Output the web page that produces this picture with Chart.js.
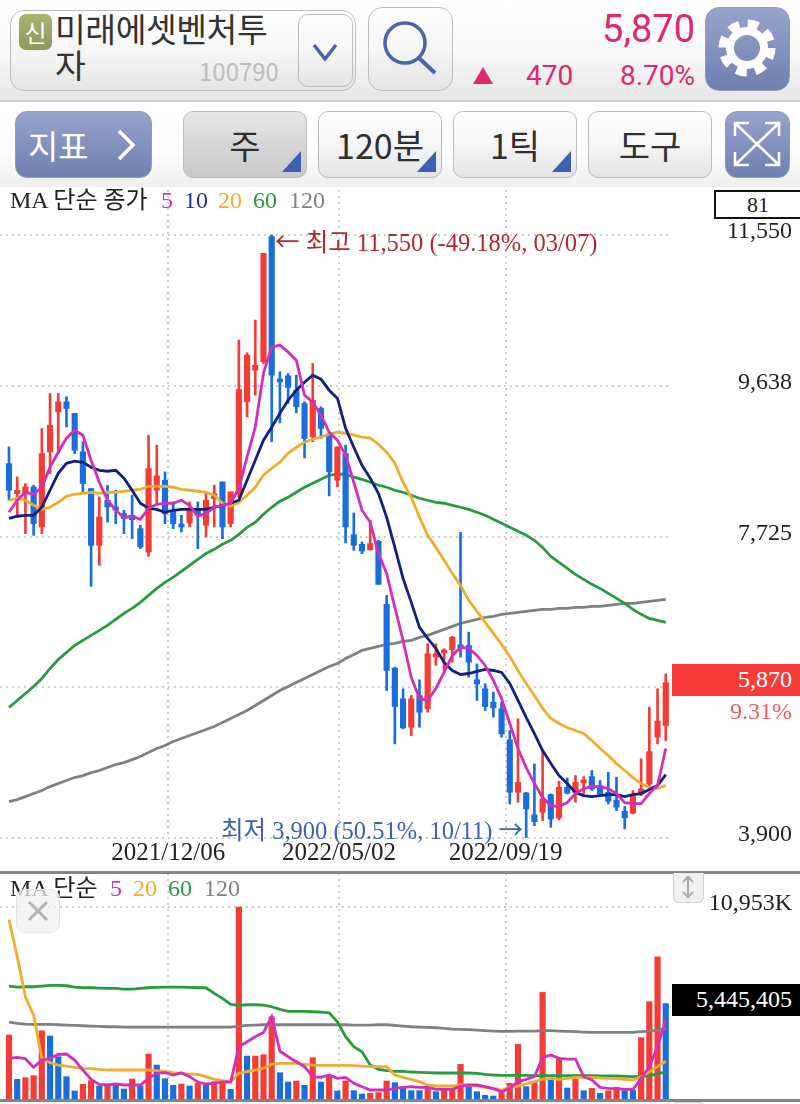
<!DOCTYPE html>
<html lang="ko">
<head>
<meta charset="utf-8">
<title>미래에셋벤처투자 100790</title>
<script src="https://cdn.jsdelivr.net/npm/chart.js@4/dist/chart.umd.min.js"></script>
<style>
    html, body { margin: 0; padding: 0; background: #fff; }
    body { width: 800px; height: 1104px; position: relative; overflow: hidden; font-family: 'Noto Sans CJK KR', 'Noto Sans', sans-serif; filter: blur(0.4px); }
    .abs { position: absolute; white-space: nowrap; line-height: 1; }
    .serif { font-family: 'Liberation Serif', 'Noto Sans CJK KR', serif; }
    .arrow { font-family: 'Noto Sans CJK KR', sans-serif; }
    #topbar { position: absolute; left: 0; top: 0; width: 800px; height: 100px; background: linear-gradient(#ffffff, #fafafa 50%, #e6e6e6); border-bottom: 2px solid #d0d0d0; }
    #toolbar { position: absolute; left: 0; top: 102px; width: 800px; height: 85px; background: linear-gradient(#ffffff, #fdfdfd 60%, #efefef); }
    .btn { position: absolute; box-sizing: border-box; border: 1.5px solid #bdbdbd; border-radius: 10px; background: linear-gradient(#ffffff, #f6f6f6 50%, #e4e4e4); }
    .btn.blue { border-color: #8f9cc0; border-radius: 12px; background: linear-gradient(#97a4ca, #6f7fb1); }
    .btn.on { background: linear-gradient(#e6e6e6, #c8c8c8); }
    .tool { color: #2f2f2f; font-size: 34px; display: flex; align-items: center; justify-content: center; }
    .corner { position: absolute; right: 5px; bottom: 5px; width: 0; height: 0; border-left: 19px solid transparent; border-bottom: 21px solid #3f5fb5; }
    canvas { position: absolute; left: 0; display: block; }
    #line1, #line2 { position: absolute; left: 0; width: 800px; height: 3px; background: #858585; }
</style>
</head>
<body>
<div id="topbar"></div>
<div id="toolbar"></div>

<div class="btn" style="left:10px;top:10px;width:346px;height:81px;border-radius:14px"></div>
<div class="abs" style="left:19px;top:14px;width:33px;height:36px;border-radius:7px;background:linear-gradient(#a9b473,#8b9a55);color:#fff;font-size:24px;line-height:35px;text-align:center">신</div>
<div class="abs" style="left:55px;top:11px;font-size:33.5px;color:#333;letter-spacing:-0.5px">미래에셋벤처투</div>
<div class="abs" style="left:55px;top:47px;font-size:33.5px;color:#333">자</div>
<div class="abs" style="left:199px;top:59px;font-size:24px;color:#bcbcbc">100790</div>
<div class="btn" style="left:298px;top:14px;width:55px;height:73px">
    <svg width="52" height="70"><path d="M15 30 L26 44 L37 30" fill="none" stroke="#4a64ac" stroke-width="3.5"/></svg>
</div>
<div class="btn" style="left:368px;top:7px;width:85px;height:84px;border-radius:14px">
    <svg width="82" height="80"><circle cx="36" cy="35" r="20" fill="none" stroke="#4a64ac" stroke-width="3.5"/><path d="M50 50 L66 65" stroke="#4a64ac" stroke-width="4"/></svg>
</div>
<div class="abs" style="right:105px;top:10px;font-size:38px;color:#dd2a6f;font-family:Roboto,sans-serif">5,870</div>
<div class="abs" style="left:473px;top:67px;width:0;height:0;border-left:10px solid transparent;border-right:10px solid transparent;border-bottom:17px solid #dd2a6f"></div>
<div class="abs" style="left:526px;top:62px;font-size:28px;color:#dd2a6f;font-family:Roboto,sans-serif">470</div>
<div class="abs" style="right:105px;top:62px;font-size:28px;color:#dd2a6f;font-family:Roboto,sans-serif">8.70%</div>
<div class="btn blue" style="left:705px;top:7px;width:85px;height:84px;border-radius:14px">
    <svg width="82" height="81"><circle cx="41" cy="40" r="24" fill="none" stroke="#fff" stroke-width="9" stroke-dasharray="10.5 8.35"/><circle cx="41" cy="40" r="17" fill="none" stroke="#fff" stroke-width="8"/></svg>
</div>

<div class="btn blue tool" style="left:15px;top:111px;width:137px;height:67px;color:#fff;font-size:33px;justify-content:flex-start;padding-left:12px">지표
    <svg width="30" height="40" style="margin-left:22px"><path d="M8 6 L22 20 L8 34" fill="none" stroke="#fff" stroke-width="3.5"/></svg>
</div>
<div class="btn on tool" style="left:183px;top:111px;width:124px;height:67px">주<div class="corner"></div></div>
<div class="btn tool" style="left:318px;top:111px;width:124px;height:67px">120분<div class="corner"></div></div>
<div class="btn tool" style="left:453px;top:111px;width:124px;height:67px">1틱<div class="corner"></div></div>
<div class="btn tool" style="left:588px;top:111px;width:124px;height:67px">도구</div>
<div class="btn blue" style="left:725px;top:111px;width:65px;height:67px">
    <svg width="62" height="64" fill="none" stroke="#fff" stroke-width="2.5"><path d="M9 11 L53 53 M53 11 L9 53 M9 24 V11 H23 M39 11 H53 V24 M9 40 V53 H23 M53 40 V53 H39"/></svg>
</div>

<canvas id="priceChart" width="800" height="680" style="top:190px"></canvas>
<canvas id="volumeChart" width="800" height="226" style="top:873px"></canvas>
<div id="line1" style="top:871px"></div>
<div id="line2" style="top:1099px"></div>

<div class="abs serif" style="left:10px;top:188px;font-size:24px;color:#222">MA 단순 종가</div>
<div class="abs serif" style="left:161px;top:188px;font-size:24px;color:#d42fb8">5</div>
<div class="abs serif" style="left:184px;top:188px;font-size:24px;color:#22308e">10</div>
<div class="abs serif" style="left:218px;top:188px;font-size:24px;color:#edae2e">20</div>
<div class="abs serif" style="left:253px;top:188px;font-size:24px;color:#289b3c">60</div>
<div class="abs serif" style="left:289px;top:188px;font-size:24px;color:#808080">120</div>
<div class="abs serif" style="left:714px;top:190px;width:86px;height:29px;box-sizing:border-box;border:2px solid #111;border-right:none;background:#fff;font-size:22px;line-height:26px;text-align:center;color:#222">81</div>

<div class="abs serif" style="left:275px;top:229px;font-size:24.5px;color:#b3282d"><span class="arrow">←</span> 최고 11,550 (-49.18%, 03/07)</div>
<div class="abs serif" style="left:221px;top:817px;font-size:24.5px;color:#3c62b8">최저 3,900 (50.51%, 10/11) <span class="arrow">→</span></div>

<div class="abs serif" style="left:672px;top:664px;width:128px;height:32px;box-sizing:border-box;background:#f73c3a;color:#fff;font-size:24px;line-height:31px;text-align:right;padding-right:8px">5,870</div>
<div class="abs serif" style="right:8px;top:699px;font-size:24px;color:#e2605f">9.31%</div>

<div class="abs serif" style="left:10px;top:876px;font-size:24px;color:#222">MA 단순</div>
<div class="abs serif" style="left:110px;top:876px;font-size:24px;color:#d42fb8">5</div>
<div class="abs serif" style="left:133px;top:876px;font-size:24px;color:#edae2e">20</div>
<div class="abs serif" style="left:168px;top:876px;font-size:24px;color:#289b3c">60</div>
<div class="abs serif" style="left:204px;top:876px;font-size:24px;color:#808080">120</div>
<div class="abs" style="left:16px;top:889px;width:44px;height:44px;box-sizing:border-box;border:1.5px solid #e2e2e2;border-radius:9px;background:rgba(240,240,240,0.75)">
    <svg width="41" height="41"><path d="M12 12 L30 30 M30 12 L12 30" stroke="#b5b5b5" stroke-width="3"/></svg>
</div>
<div class="abs" style="left:673px;top:873px;width:31px;height:30px;box-sizing:border-box;border:1.5px solid #d0d0d0;border-top:none;border-radius:0 0 6px 6px;background:#f0f0f0">
    <svg width="28" height="28"><path d="M14 4 V24 M9 9 L14 4 L19 9 M9 19 L14 24 L19 19" fill="none" stroke="#aaa" stroke-width="2"/></svg>
</div>
<div class="abs" style="left:673px;top:1102px;width:31px;height:4px;box-sizing:border-box;border:1.5px solid #d8d8d8;border-radius:6px 6px 0 0;background:#f4f4f4"></div>
<div class="abs serif" style="left:672px;top:984px;width:128px;height:32px;box-sizing:border-box;background:#000;color:#fff;font-size:24px;line-height:31px;text-align:right;padding-right:8px">5,445,405</div>

<script>
// weekly candles
const candleOpen = [
    8650,8269,8269,8354,7846,8799,9307,9434,9285,8799,
    8333,7613,8185,8100,8016,7994,7825,7529,8312,8439,
    8058,7880,7897,8058,7867,8206,8417,7888,8269,9434,
    9836,9941,11529,9721,9764,9582,9412,8989,9349,9010,
    8439,8777,7749,7626,7558,7664,6864,6055,5666,5306,
    5708,5539,6195,6246,6288,6343,6343,5907,5793,5623,
    5539,5145,4480,4472,4193,4226,4451,4154,4544,4480,
    4599,4679,4565,4480,4383,4239,4214,4468,4586,5179,
    5327];
const candleHigh = [
    8862,8481,8396,8375,9095,9539,9539,9497,9285,8926,
    8333,8227,8375,8312,8058,8248,7867,9010,8883,8545,
    8164,7994,8164,8164,8291,8375,8417,8291,10217,10056,
    10471,11317,11550,9815,9793,9772,9434,9920,9370,9031,
    8862,8883,8024,7656,7931,7677,6978,6068,5793,5708,
    5907,6364,6364,6301,6457,7778,6512,6110,5856,5750,
    5623,5264,5412,4480,4840,5010,4459,4620,4662,4692,
    4679,4756,4629,4734,4671,4298,4502,4904,5560,5793,
    5983];
const candleLow = [
    8185,7973,7761,7740,7761,8523,8777,9116,8777,8291,
    7093,7359,7909,7888,7761,7698,7571,7474,8142,7888,
    7825,7783,7846,7571,7719,7846,7698,7846,8227,9243,
    9518,9920,8926,9167,9412,9294,8722,8926,8968,8240,
    8354,7643,7550,7507,7550,7118,5771,5094,5285,5200,
    5306,5496,6089,6004,6131,6195,5941,5645,5518,5433,
    5179,4332,4353,3900,4057,4121,4036,4129,4459,4353,
    4459,4502,4438,4332,4248,4015,4205,4438,4544,5094,
    5136];
const candleClose = [
    8312,8312,8354,7888,8777,9137,9434,9349,8820,8396,
    7613,7973,8100,8058,7952,7939,7592,8587,8494,8016,
    7888,7846,8079,7994,8185,8269,7846,8291,9590,10026,
    9899,11317,9772,9687,9616,9370,8968,9455,9095,8545,
    8862,7846,7613,7541,7634,7118,6025,5568,5297,5666,
    5496,6237,6237,6271,6449,6313,6131,5856,5568,5551,
    5221,4480,4607,4269,4108,4396,4142,4544,4468,4607,
    4616,4523,4459,4366,4290,4155,4438,4523,4997,5382,
    5870];

const priceMa5 = [
    8032,8185,8286,8261,8350,8604,8794,8972,9074,9010,
    8693,8413,8185,8058,7969,7982,7943,8083,8134,8147,
    8147,8185,8121,7982,8019,8096,8121,8147,8337,8731,
    9112,9798,10128,10153,10064,9962,9518,9429,9264,9048,
    8947,8756,8413,8058,7905,7511,7257,6826,6407,5937,
    5670,5645,5797,6000,6216,6318,6305,6216,6089,5899,
    5670,5353,5035,4794,4591,4413,4311,4298,4349,4464,
    4527,4552,4552,4527,4464,4349,4337,4337,4464,4565,
    5035];
const priceMa10 = [
    7956,7982,7994,7994,8096,8312,8527,8654,8680,8667,
    8604,8565,8553,8565,8464,8312,8147,8083,8070,8032,
    8058,8070,8070,8070,8070,8096,8121,8147,8185,8438,
    8693,8947,9112,9289,9454,9581,9683,9772,9721,9581,
    9480,9099,8857,8629,8464,8273,7969,7587,7194,6889,
    6572,6432,6305,6127,6025,5975,5987,6013,6038,6025,
    6000,5861,5645,5429,5225,5010,4844,4692,4591,4476,
    4438,4425,4438,4451,4451,4425,4451,4464,4514,4565,
    4705];
const priceMa20 = [
    8185,8210,8185,8121,8070,8096,8159,8235,8261,8273,
    8286,8273,8286,8286,8299,8312,8324,8362,8362,8362,
    8350,8324,8312,8299,8286,8248,8147,8108,8159,8248,
    8350,8502,8591,8667,8781,8857,8921,8959,8985,9023,
    9048,9035,9010,8985,8972,8896,8794,8654,8413,8223,
    7969,7740,7587,7423,7257,7105,6915,6775,6635,6495,
    6356,6203,6025,5861,5708,5543,5416,5353,5302,5264,
    5225,5137,5035,4946,4844,4756,4667,4591,4540,4527,
    4565];
const priceMa60 = [
    5556,5645,5734,5822,5924,6051,6165,6254,6343,6407,
    6470,6534,6597,6673,6750,6813,6889,6978,7067,7143,
    7207,7283,7359,7435,7511,7562,7626,7677,7753,7842,
    7905,8007,8096,8172,8223,8286,8350,8400,8451,8502,
    8515,8515,8477,8451,8413,8375,8350,8312,8286,8248,
    8210,8185,8159,8147,8121,8096,8070,8032,7994,7943,
    7892,7842,7791,7740,7677,7587,7473,7397,7321,7245,
    7181,7118,7067,7003,6940,6876,6800,6737,6686,6660,
    6635];
const priceMa120 = [
    4362,4387,4425,4464,4502,4552,4591,4629,4667,4692,
    4730,4756,4794,4832,4857,4895,4933,4984,5035,5073,
    5124,5162,5200,5238,5276,5314,5365,5416,5467,5517,
    5581,5645,5708,5772,5822,5873,5924,5975,6025,6076,
    6114,6178,6229,6280,6305,6330,6356,6369,6394,6407,
    6445,6470,6508,6546,6585,6623,6648,6673,6699,6711,
    6737,6750,6762,6775,6788,6800,6800,6813,6813,6826,
    6826,6839,6839,6851,6864,6876,6876,6889,6902,6915,
    6927];

// volume in thousands of shares; 1 = red bar, 0 = blue bar
const volume = [
    3648,1121,1216,1330,3895,3591,2413,1273,456,836,
    1045,741,798,893,570,1140,760,2565,1938,1159,
    779,855,741,893,779,988,931,551,10953,2451,
    2451,2527,4693,1501,969,1026,779,2356,969,1311,
    456,1026,475,285,323,361,1026,931,665,475,
    475,608,418,513,551,1976,703,418,209,171,
    361,893,3116,703,988,6080,1083,2280,627,1121,
    475,608,323,475,665,475,513,3496,5548,8113,
    5445];
const volumeUp = [
    1,0,1,1,1,0,0,0,0,1,
    1,0,1,0,0,1,0,1,0,0,
    0,1,0,1,0,1,1,0,1,0,
    1,1,1,0,0,1,0,1,0,1,
    0,1,0,0,1,1,1,0,0,0,
    0,1,0,1,1,1,0,0,0,0,
    1,1,1,0,1,1,0,1,0,1,
    0,1,0,1,1,0,0,1,1,1,
    0];
const volumeMa5 = [
    2318,2375,2299,1805,2223,2318,2546,2565,2223,1653,
    1121,836,798,855,798,798,798,1178,1463,1501,
    1368,1501,1273,969,855,893,969,969,2983,3268,
    3553,3800,4693,2736,2413,2128,1843,1273,1235,1368,
    1178,1235,893,703,513,513,513,608,665,703,
    665,665,551,551,551,741,798,798,703,589,
    418,608,988,1121,1273,2375,2508,2318,2280,2280,
    1273,1083,665,608,589,551,551,1178,1843,2983,
    4503];
const volumeMa20 = [
    10241,8113,5833,4788,2318,2071,1938,1881,1805,1748,
    1729,1691,1653,1653,1653,1653,1653,1653,1615,1577,
    1501,1463,1425,1406,1273,1121,1045,988,1463,1558,
    1653,1748,1976,2033,2033,2033,1995,1938,1919,1919,
    1919,1919,1900,1881,1843,1843,1843,1368,1235,1121,
    988,798,741,741,741,798,798,741,665,608,
    513,665,741,855,988,1121,1178,1121,1178,1235,
    1235,1235,1197,1178,1159,1121,1083,1273,1558,1843,
    2166];
const volumeMa60 = [
    6441,6384,6403,6403,6441,6479,6479,6460,6384,6346,
    6346,6327,6308,6308,6270,6270,6308,6346,6365,6384,
    6384,6384,6365,6346,6346,6023,5738,5396,5339,5377,
    5377,5358,5263,5111,4997,4997,4997,4978,4959,4921,
    4408,3553,2983,2698,1938,1691,1615,1577,1577,1539,
    1520,1501,1482,1482,1482,1482,1482,1463,1406,1368,
    1349,1349,1349,1349,1330,1330,1330,1330,1330,1330,
    1330,1330,1311,1311,1311,1292,1273,1292,1311,1444,
    1539];
const volumeMa120 = [
    4389,4313,4275,4256,4256,4256,4237,4218,4199,4180,
    4161,4142,4123,4123,4104,4104,4104,4104,4104,4104,
    4104,4104,4104,4104,4104,4104,4104,4104,4161,4199,
    4218,4237,4237,4237,4237,4237,4237,4237,4237,4237,
    4237,4237,4218,4218,4218,4237,4237,4199,4161,4123,
    4104,4085,4066,4028,3990,3971,3952,3933,3895,3876,
    3857,3857,3876,3876,3876,3895,3895,3876,3857,3838,
    3819,3800,3800,3800,3800,3800,3800,3838,3876,3933,
    4028];

// axis ticks
const xTickPositions = [19.4, 40.2, 60.5];
const xTickLabels = ['2021/12/06', '2022/05/02', '2022/09/19'];
const priceTicks = [3900, 5812, 7725, 9638, 11550];
const priceTickLabels = ['3,900', '', '7,725', '9,638', '11,550'];
const volumeTicks = [10953];
const volumeTickLabels = ['10,953K'];

const RED = '#f43c37';
const BLUE = '#1a6edb';
const candleIndex = candleOpen.map((_, i) => i);
const candleColor = candleOpen.map((open, i) => candleClose[i] >= open ? RED : BLUE);

const serifFont = { family: "'Liberation Serif', serif", size: 24 };
const gridStyle = { color: '#cfcfcf', lineWidth: 2, drawTicks: false, offset: false };
const gridBorder = { display: false, dash: [2, 4] };

function points(values) {
    return values.map((v, i) => ({ x: i, y: v }));
}

function maLine(values, color, order) {
    return {
        type: 'line',
        data: points(values),
        borderColor: color,
        borderWidth: 2.8,
        pointRadius: 0,
        tension: 0,
        order: order
    };
}

function xAxis(showLabels) {
    return {
        type: 'linear',
        offset: false,
        min: -1.096,
        max: 80.76,
        afterBuildTicks: scale => { scale.ticks = xTickPositions.map(v => ({ value: v })); },
        afterFit: scale => { scale.height = showLabels ? 32 : 0; },
        border: gridBorder,
        grid: gridStyle,
        ticks: {
            display: showLabels,
            autoSkip: false,
            maxRotation: 0,
            padding: 0,
            color: '#222',
            font: { family: serifFont.family, size: 25 },
            callback: (v, i) => xTickLabels[i]
        }
    };
}

function yAxis(min, max, tickValues, tickLabels) {
    return {
        type: 'linear',
        position: 'right',
        min: min,
        max: max,
        afterBuildTicks: scale => { scale.ticks = tickValues.map(v => ({ value: v })); },
        afterFit: scale => { scale.width = 120; scale.paddingTop = 0; scale.paddingBottom = 0; },
        border: gridBorder,
        grid: gridStyle,
        ticks: {
            autoSkip: false,
            crossAlign: 'far',
            labelOffset: -3,
            color: '#222',
            font: serifFont,
            callback: (v, i) => tickLabels[i]
        }
    };
}

const commonOptions = {
    responsive: false,
    animation: false,
    devicePixelRatio: 1,
    layout: { padding: { right: 8 } },
    plugins: { legend: { display: false }, tooltip: { enabled: false } }
};

new Chart(document.getElementById('priceChart'), {
    type: 'bar',
    data: {
        datasets: [
            {
                data: candleIndex.map(i => ({ x: i, y: [candleLow[i], candleHigh[i]] })),
                backgroundColor: candleColor,
                barThickness: 2,
                grouped: false,
                order: 5
            },
            {
                data: candleIndex.map(i => ({
                    x: i,
                    y: [Math.min(candleOpen[i], candleClose[i]), Math.max(candleOpen[i], candleClose[i])]
                })),
                backgroundColor: candleColor,
                barThickness: 5.5,
                minBarLength: 3,
                grouped: false,
                order: 4
            },
            maLine(priceMa120, '#808080', 7),
            maLine(priceMa60, '#289b3c', 6),
            maLine(priceMa20, '#edae2e', 3),
            maLine(priceMa10, '#14207e', 2),
            maLine(priceMa5, '#d42fb8', 1)
        ]
    },
    options: {
        ...commonOptions,
        scales: {
            x: xAxis(true),
            y: yAxis(3900, 12121, priceTicks, priceTickLabels)
        }
    }
});

new Chart(document.getElementById('volumeChart'), {
    type: 'bar',
    data: {
        datasets: [
            {
                data: points(volume),
                backgroundColor: volumeUp.map(up => up ? RED : BLUE),
                barThickness: 5.5,
                grouped: false,
                order: 5
            },
            maLine(volumeMa120, '#808080', 4),
            maLine(volumeMa60, '#289b3c', 3),
            maLine(volumeMa20, '#edae2e', 2),
            maLine(volumeMa5, '#d42fb8', 1)
        ]
    },
    options: {
        ...commonOptions,
        scales: {
            x: xAxis(false),
            y: yAxis(0, 12893, volumeTicks, volumeTickLabels)
        }
    }
});
</script>
</body>
</html>
